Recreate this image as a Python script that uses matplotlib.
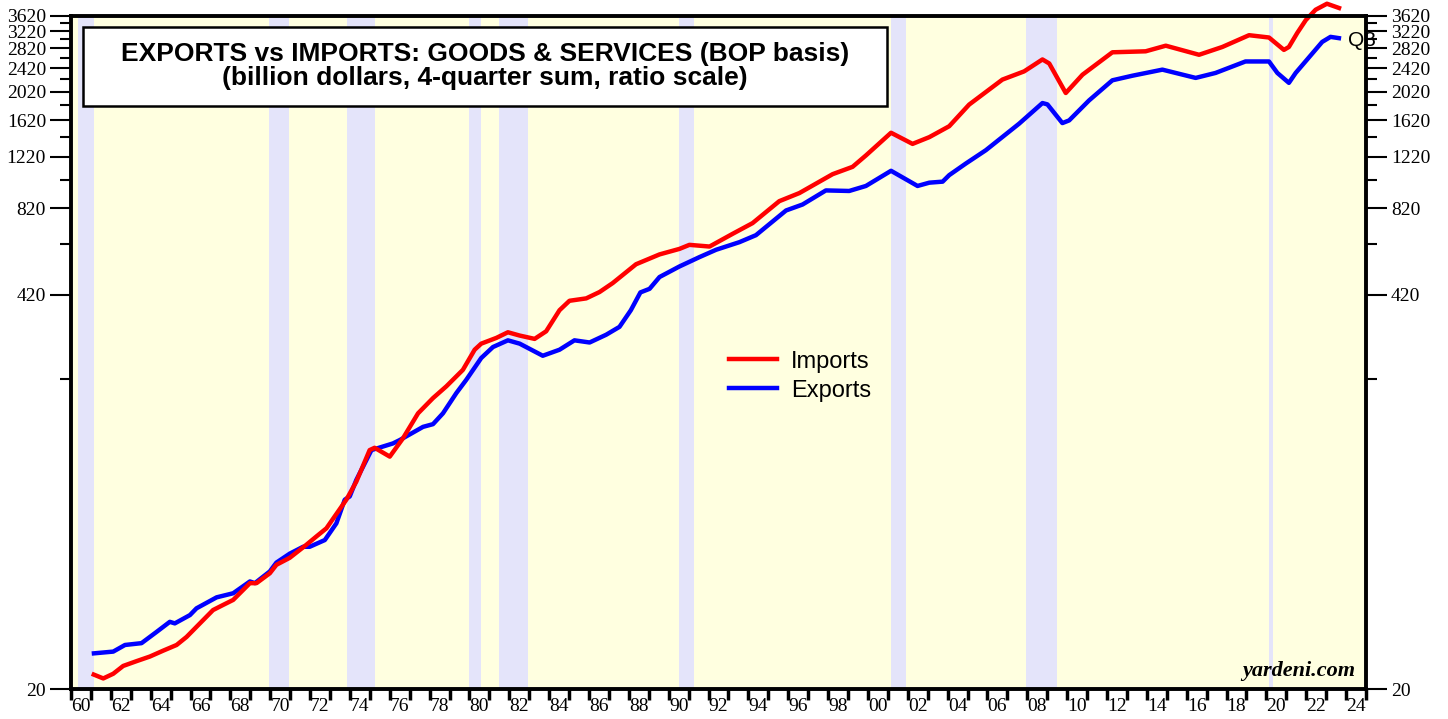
import matplotlib
matplotlib.use("Agg")
import matplotlib.pyplot as plt
from matplotlib.ticker import FixedLocator, FixedFormatter, NullFormatter
from matplotlib.patches import Rectangle
from matplotlib.lines import Line2D

# Exports, 4-quarter sum, billion dollars
exp_dates = [1961.04, 1962.12, 1962.71, 1963.54, 1964.30, 1964.96, 1965.21, 1965.97,
             1966.30, 1967.31, 1968.14, 1968.98, 1969.23, 1969.98, 1970.31, 1970.98,
             1971.65, 1971.98, 1972.74, 1973.32, 1973.74, 1973.99, 1974.32, 1975.08,
             1976.16, 1976.50, 1977.67, 1978.17, 1978.67, 1979.34, 1979.84, 1980.59,
             1981.18, 1981.93, 1982.52, 1983.68, 1984.52, 1985.27, 1986.03, 1986.86,
             1987.53, 1988.10, 1988.58, 1989.04, 1989.54, 1990.54, 1991.54, 1992.38,
             1993.55, 1994.38, 1995.89, 1996.72, 1997.89, 1999.06, 1999.90, 2001.16,
             2002.49, 2003.08, 2003.75, 2004.08, 2004.92, 2005.92, 2007.59, 2008.76,
             2009.01, 2009.76, 2010.10, 2011.10, 2012.27, 2013.27, 2014.78, 2016.45,
             2017.45, 2018.95, 2020.13, 2020.55, 2021.13, 2021.47, 2022.80, 2023.22,
             2023.75]
exports = [26.3, 26.7, 28.1, 28.5, 31.1, 33.6, 33.2, 35.4,
           37.3, 40.6, 41.9, 45.9, 45.3, 49.6, 53.1, 56.9,
           60.0, 60.0, 63.2, 71.9, 86.3, 88.5, 100.5, 126.6,
           133.3, 136.8, 151.5, 154.7, 168.2, 196.6, 217.9, 257.8,
           280.7, 295.6, 288.1, 262.4, 274.9, 295.6, 290.7, 308.6,
           328, 373, 428, 440, 482, 523, 562, 595,
           631, 666, 806, 844, 941, 937, 974, 1095,
           974, 999, 1007, 1059, 1159, 1284, 1576, 1848,
           1829, 1583, 1616, 1886, 2203, 2282, 2392, 2244,
           2332, 2548, 2548, 2332, 2160, 2332, 2963, 3081,
           3043]

# Imports, 4-quarter sum, billion dollars
imp_dates = [1961.04, 1961.62, 1962.12, 1962.62, 1963.29, 1963.96, 1964.63, 1965.30,
             1965.80, 1966.47, 1967.13, 1967.64, 1968.14, 1968.98, 1969.31, 1969.98,
             1970.31, 1970.98, 1971.81, 1972.32, 1972.82, 1973.82, 1974.32, 1974.99,
             1975.24, 1976.00, 1976.66, 1977.42, 1978.17, 1978.84, 1979.67, 1980.26,
             1980.59, 1981.35, 1981.93, 1982.52, 1983.27, 1983.85, 1984.52, 1985.02,
             1985.86, 1986.53, 1987.19, 1988.36, 1989.54, 1990.54, 1991.04, 1992.05,
             1993.21, 1994.21, 1995.55, 1996.56, 1998.23, 1999.23, 1999.90, 2001.16,
             2002.24, 2003.08, 2004.08, 2005.08, 2006.75, 2007.84, 2008.76, 2009.10,
             2009.93, 2010.77, 2012.27, 2013.94, 2014.95, 2016.62, 2017.79, 2019.13,
             2020.13, 2020.88, 2021.13, 2021.55, 2021.98, 2022.47, 2023.04, 2023.75]
imports = [22.5, 21.7, 22.5, 23.9, 24.8, 25.7, 26.9, 28.1,
           29.9, 33.2, 36.8, 38.3, 39.8, 45.3, 45.3, 48.9,
           52.2, 55.1, 60.9, 65.0, 69.2, 86.3, 99.2, 126.6,
           128.9, 120.4, 138.6, 168.2, 189.2, 207.2, 235.3, 274.9,
           288.1, 301.2, 314.6, 306.7, 298.9, 317.0, 373.0, 401.2,
           408.7, 429.3, 460, 532, 574, 599, 618, 610,
           673, 731, 866, 922, 1067, 1129, 1233, 1469,
           1348, 1420, 1545, 1826, 2215, 2360, 2588, 2509,
           1997, 2300, 2735, 2756, 2878, 2683, 2850, 3121,
           3066, 2786, 2850, 3176, 3509, 3799, 3980, 3829]

# recession periods (shaded)
rec_start = [1960.33, 1969.92, 1973.83, 1980.00, 1981.50, 1990.50, 2001.17, 2007.92, 2020.12]
rec_end = [1961.17, 1970.92, 1975.25, 1980.58, 1982.92, 1991.25, 2001.92, 2009.50, 2020.33]

y_major = [20, 420, 820, 1220, 1620, 2020, 2420, 2820, 3220, 3620]
y_minor = [220, 620, 1020, 1420, 1820, 2220, 2620, 3020, 3420]

serif = ["Liberation Serif", "DejaVu Serif"]
sans = ["Liberation Sans", "DejaVu Sans"]

fig = plt.figure(figsize=(14.48, 7.19), dpi=100)
ax = fig.add_axes([71 / 1448, 30 / 719, 1295 / 1448, 673 / 719])
ax.set_facecolor("#FFFFE0")

for s, e in zip(rec_start, rec_end):
    ax.axvspan(s, e, color="#E4E4FA", lw=0, zorder=1)

ax.plot(exp_dates, exports, color="#0000FF", lw=3.2, zorder=3,
        solid_joinstyle="round", solid_capstyle="butt")
ax.plot(imp_dates, imports, color="#FF0000", lw=3.2, zorder=4, clip_on=False,
        solid_joinstyle="round", solid_capstyle="butt")

ax.set_yscale("log")
ax.set_ylim(20, 3620)
ax.set_xlim(1960, 2025)

ax.yaxis.set_major_locator(FixedLocator(y_major))
ax.yaxis.set_major_formatter(FixedFormatter([str(v) for v in y_major]))
ax.yaxis.set_minor_locator(FixedLocator(y_minor))
ax.yaxis.set_minor_formatter(NullFormatter())

x_lab_pos = [y + 0.5 for y in range(1960, 2025, 2)]
ax.xaxis.set_major_locator(FixedLocator(x_lab_pos))
ax.xaxis.set_major_formatter(FixedFormatter(["%02d" % (y % 100) for y in range(1960, 2025, 2)]))
ax.xaxis.set_minor_locator(FixedLocator(list(range(1960, 2026))))

ax.tick_params(axis="x", which="major", length=0, pad=6.5, labelsize=14)
ax.tick_params(axis="x", which="minor", length=8, width=2.5, direction="out")
ax.tick_params(axis="y", which="major", length=15, width=1.5, direction="out",
               left=True, right=True, labelleft=True, labelright=True, labelsize=14, pad=3)
ax.tick_params(axis="y", which="minor", length=8, width=1.5, direction="out",
               left=True, right=True)
for lab in ax.get_xticklabels() + ax.get_yticklabels():
    lab.set_family(serif)

for sp in ax.spines.values():
    sp.set_linewidth(2.8)
    sp.set_zorder(6)

# title box
ax.add_patch(Rectangle((0.0093, 0.866), 0.621, 0.118, transform=ax.transAxes,
                       facecolor="white", edgecolor="black", lw=1.8, zorder=7))
ax.text(0.3195, 0.925, "EXPORTS vs IMPORTS: GOODS & SERVICES (BOP basis)\n"
        "(billion dollars, 4-quarter sum, ratio scale)",
        transform=ax.transAxes, ha="center", va="center", fontsize=19,
        fontweight="bold", family=sans, linespacing=1.0, zorder=8)

handles = [Line2D([], [], color="#FF0000", lw=3.2), Line2D([], [], color="#0000FF", lw=3.2)]
ax.legend(handles, ["Imports", "Exports"], loc="center left",
          bbox_to_anchor=(0.492, 0.465), frameon=False, prop={"family": sans, "size": 17},
          handlelength=2.0, handletextpad=0.6, labelspacing=0.3)

ax.text(2024.1, 3000, "Q3", ha="left", va="center", fontsize=15, family=sans,
        clip_on=False, zorder=9)

ax.text(0.992, 0.012, "yardeni.com", transform=ax.transAxes, ha="right", va="bottom",
        fontsize=16, fontweight="bold", style="italic", family=serif, zorder=8)

plt.savefig("out.png", dpi=100)
